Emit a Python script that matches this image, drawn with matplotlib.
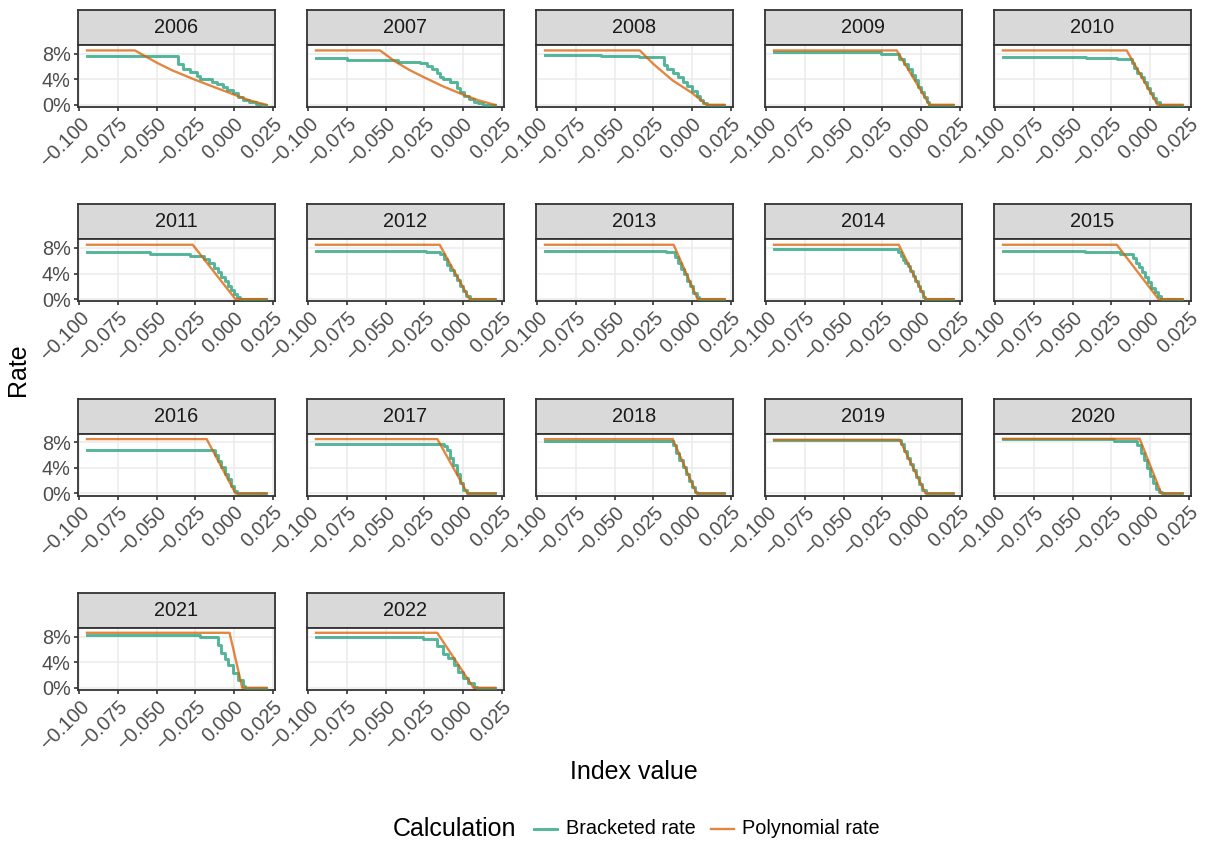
import matplotlib
matplotlib.use("Agg")
import matplotlib.pyplot as plt
from matplotlib.lines import Line2D
from matplotlib.transforms import ScaledTranslation

plt.rcParams["font.family"] = ["Liberation Sans", "DejaVu Sans"]

# ---- data (rates in percent, index in raw units) ----
years = list(range(2006, 2023))

# Polynomial rate: flat top, then falls to zero
poly_x = {
    2006: [-0.095, -0.064, -0.05, -0.04, -0.025, -0.012, 0.0, 0.01, 0.021],
    2007: [-0.095, -0.0536, -0.044, -0.035, -0.026, -0.013, 0.0, 0.01, 0.0205, 0.021],
    2008: [-0.095, -0.0337, -0.025, -0.0124, -0.0002, 0.005, 0.0095, 0.021],
    2009: [-0.095, -0.0156, 0.0056, 0.021],
    2010: [-0.095, -0.015, 0.005, 0.021],
    2011: [-0.095, -0.0266, 0.001, 0.021],
    2012: [-0.095, -0.015, 0.0043, 0.021],
    2013: [-0.095, -0.0118, 0.0037, 0.021],
    2014: [-0.095, -0.0143, 0.0031, 0.021],
    2015: [-0.095, -0.0214, 0.0056, 0.021],
    2016: [-0.095, -0.0176, 0.0011, 0.021],
    2017: [-0.095, -0.0165, 0.003, 0.021],
    2018: [-0.095, -0.0124, 0.003, 0.021],
    2019: [-0.095, -0.0137, 0.003, 0.021],
    2020: [-0.095, -0.0066, 0.0074, 0.021],
    2021: [-0.095, -0.0028, 0.0054, 0.021],
    2022: [-0.095, -0.0166, 0.0069, 0.021],
}
poly_y = {
    2006: [8.5, 8.5, 6.6, 5.4, 3.9, 2.7, 1.6, 0.7, 0.0],
    2007: [8.5, 8.5, 6.8, 5.5, 4.4, 2.9, 1.6, 0.7, 0.0, 0.0],
    2008: [8.5, 8.5, 6.4, 3.8, 1.9, 0.9, 0.0, 0.0],
    2009: [8.5, 8.5, 0, 0],
    2010: [8.5, 8.5, 0, 0],
    2011: [8.5, 8.5, 0, 0],
    2012: [8.5, 8.5, 0, 0],
    2013: [8.5, 8.5, 0, 0],
    2014: [8.5, 8.5, 0, 0],
    2015: [8.5, 8.5, 0, 0],
    2016: [8.5, 8.5, 0, 0],
    2017: [8.5, 8.5, 0, 0],
    2018: [8.5, 8.5, 0, 0],
    2019: [8.4, 8.4, 0, 0],
    2020: [8.55, 8.55, 0, 0],
    2021: [8.6, 8.6, 0, 0],
    2022: [8.6, 8.6, 0, 0],
}

# Bracketed rate: step values, each holding until the next break
brk_x = {
    2006: [-0.095, -0.0362, -0.033, -0.0285, -0.024, -0.022, -0.0143, -0.0111, -0.0073,
           -0.0047, -0.0008, 0.0024, 0.0056, 0.0101, 0.0146, 0.0185, 0.021],
    2007: [-0.095, -0.075, -0.042, -0.028, -0.023, -0.020, -0.017, -0.015, -0.013,
           -0.0085, -0.004, -0.002, 0.001, 0.004, 0.007, 0.010, 0.013, 0.021],
    2008: [-0.095, -0.059, -0.034, -0.018, -0.016, -0.012, -0.009, -0.006, -0.003,
           0.0, 0.003, 0.005, 0.007, 0.0095, 0.021],
    2009: [-0.095, -0.026, -0.014, -0.011, -0.008, -0.006, -0.004, -0.002, 0.0,
           0.002, 0.004, 0.0055, 0.021],
    2010: [-0.095, -0.041, -0.0214, -0.0118, -0.010, -0.008, -0.006, -0.004, -0.002,
           0.0, 0.002, 0.004, 0.0063, 0.021],
    2011: [-0.095, -0.054, -0.0285, -0.019, -0.016, -0.013, -0.010, -0.008, -0.006,
           -0.004, -0.002, 0.0, 0.002, 0.0037, 0.021],
    2012: [-0.095, -0.024, -0.015, -0.012, -0.010, -0.008, -0.006, -0.004, -0.002,
           0.0, 0.002, 0.0045, 0.021],
    2013: [-0.095, -0.024, -0.017, -0.011, -0.009, -0.007, -0.005, -0.003, -0.001,
           0.001, 0.003, 0.0045, 0.021],
    2014: [-0.095, -0.0148, -0.013, -0.0116, -0.010, -0.0084, -0.0068, -0.0051,
           -0.0035, -0.0019, -0.0003, 0.0013, 0.0028, 0.021],
    2015: [-0.095, -0.042, -0.019, -0.011, -0.009, -0.007, -0.005, -0.003, -0.001,
           0.001, 0.003, 0.005, 0.0075, 0.021],
    2016: [-0.095, -0.0124, -0.010, -0.008, -0.006, -0.004, -0.002, 0.0, 0.0018, 0.021],
    2017: [-0.095, -0.0125, -0.010, -0.008, -0.0066, -0.004, -0.002, 0.0, 0.0025,
           0.0045, 0.021],
    2018: [-0.095, -0.012, -0.010, -0.008, -0.006, -0.004, -0.002, 0.0, 0.002,
           0.0035, 0.021],
    2019: [-0.095, -0.013, -0.011, -0.009, -0.007, -0.005, -0.003, -0.001, 0.001,
           0.0032, 0.021],
    2020: [-0.095, -0.0234, -0.008, -0.006, -0.004, -0.002, 0.0, 0.002, 0.004,
           0.006, 0.0078, 0.021],
    2021: [-0.095, -0.022, -0.0105, -0.008, -0.006, -0.004, -0.0008, 0.0024, 0.0057,
           0.0075, 0.021],
    2022: [-0.095, -0.0259, -0.017, -0.013, -0.0094, -0.006, -0.003, 0.0, 0.0036,
           0.007, 0.009, 0.021],
}
brk_y = {
    2006: [7.6, 6.3, 5.6, 5.2, 4.5, 4.0, 3.6, 3.2, 2.8, 2.3, 1.8, 1.2, 0.8, 0.4, 0.1, 0.0, 0.0],
    2007: [7.3, 7.0, 6.7, 6.5, 6.0, 5.6, 5.0, 4.4, 4.0, 3.6, 2.6, 2.0, 1.4, 0.9, 0.5, 0.2, 0.0, 0.0],
    2008: [7.85, 7.7, 7.5, 6.2, 5.6, 5.0, 4.3, 3.6, 3.0, 2.2, 1.4, 0.7, 0.2, 0.0, 0.0],
    2009: [8.2, 7.9, 7.2, 6.4, 5.6, 4.6, 3.8, 2.8, 2.0, 1.2, 0.5, 0.0, 0.0],
    2010: [7.4, 7.3, 7.1, 6.5, 5.8, 5.0, 4.3, 3.5, 2.6, 1.8, 1.0, 0.4, 0.0, 0.0],
    2011: [7.3, 7.0, 6.8, 6.3, 5.6, 4.8, 4.2, 3.5, 2.8, 2.1, 1.4, 0.8, 0.3, 0.0, 0.0],
    2012: [7.6, 7.4, 7.0, 6.2, 5.4, 4.6, 3.8, 3.0, 2.1, 1.3, 0.5, 0.0, 0.0],
    2013: [7.6, 7.5, 7.3, 6.6, 5.7, 4.7, 3.9, 2.9, 2.0, 1.0, 0.3, 0.0, 0.0],
    2014: [7.85, 7.3, 6.7, 6.1, 5.6, 5.1, 4.4, 3.6, 2.9, 2.1, 1.2, 0.4, 0.0, 0.0],
    2015: [7.6, 7.4, 7.1, 6.4, 5.7, 5.0, 4.2, 3.4, 2.6, 1.8, 1.1, 0.5, 0.0, 0.0],
    2016: [6.8, 6.0, 5.0, 4.1, 3.1, 2.2, 1.2, 0.4, 0.0, 0.0],
    2017: [7.8, 7.4, 6.8, 5.6, 4.4, 3.0, 1.6, 0.5, 0.1, 0.0, 0.0],
    2018: [8.2, 7.6, 6.4, 5.3, 4.2, 3.1, 2.0, 1.0, 0.2, 0.0, 0.0],
    2019: [8.3, 7.7, 6.7, 5.6, 4.6, 3.6, 2.5, 1.5, 0.6, 0.0, 0.0],
    2020: [8.5, 8.2, 7.6, 6.4, 5.2, 4.0, 2.8, 1.7, 0.7, 0.2, 0.0, 0.0],
    2021: [8.2, 8.0, 6.7, 5.5, 4.5, 3.5, 2.3, 1.2, 0.2, 0.0, 0.0],
    2022: [7.9, 7.7, 6.6, 5.3, 4.6, 3.5, 2.5, 1.5, 0.7, 0.1, 0.0, 0.0],
}

x_ticks = [-0.1, -0.075, -0.05, -0.025, 0.0, 0.025]
y_ticks = [0, 4, 8]

# ---- styling ----
GREEN = "#1B9E77"
ORANGE = "#D95F02"
DARK = "#333333"
GRID = "#EBEBEB"
TICK_TXT = "#4D4D4D"

W, H = 1208, 841
fig = plt.figure(figsize=(W / 100, H / 100), dpi=100)
label_shift = ScaledTranslation(4 / 100, 0, fig.dpi_scale_trans)


def box(left, top, width, height):
    return [left / W, 1 - (top + height) / H, width / W, height / H]


def minus(v):
    return f"{v:.3f}".replace("-", "\u2212")


for i, year in enumerate(years):
    row, col = divmod(i, 5)
    left = 78 + col * 229
    top = 10 + row * 194.33

    # strip with the year
    sax = fig.add_axes(box(left, top, 197, 35))
    sax.set_facecolor("#D9D9D9")
    sax.set_xticks([])
    sax.set_yticks([])
    for s in sax.spines.values():
        s.set_color(DARK)
        s.set_linewidth(1.3)
    sax.text(0.5, 0.5, str(year), ha="center", va="center",
             fontsize=14.3, color="#1A1A1A", transform=sax.transAxes)

    ax = fig.add_axes(box(left, top + 35, 197, 62))
    ax.step(brk_x[year], brk_y[year], where="post", color=GREEN,
            alpha=0.75, lw=2.1, zorder=3)
    ax.plot(poly_x[year], poly_y[year], color=ORANGE, alpha=0.75, lw=1.7, zorder=4)

    ax.set_xlim(-0.1008, 0.0266)
    ax.set_ylim(-0.35, 9.35)
    ax.set_xticks(x_ticks)
    ax.set_xticklabels([minus(v) for v in x_ticks], rotation=45, ha="right",
                       va="top", rotation_mode="anchor")
    for lab in ax.get_xticklabels():
        lab.set_transform(lab.get_transform() + label_shift)
    ax.set_yticks(y_ticks)
    ax.set_yticklabels([f"{v}%" for v in y_ticks])
    ax.grid(True, color=GRID, lw=1.1, zorder=0)
    ax.set_axisbelow(True)
    ax.tick_params(axis="both", length=3.2, width=1.2, color=DARK,
                   labelsize=14.3, labelcolor=TICK_TXT, pad=2)
    if col != 0:
        ax.tick_params(axis="y", left=False, labelleft=False)
    for s in ax.spines.values():
        s.set_color(DARK)
        s.set_linewidth(1.3)

# axis titles
fig.text(634 / W, 1 - 772 / H, "Index value", ha="center", va="center", fontsize=18)
fig.text(18 / W, 1 - 370 / H, "Rate", ha="center", va="center", rotation=90, fontsize=18)

# legend along the bottom
ly = 1 - 829 / H
fig.text(393 / W, ly, "Calculation", ha="left", va="center", fontsize=18)
fig.add_artist(Line2D([534 / W, 557 / W], [ly, ly], color=GREEN, alpha=0.75, lw=2.1))
fig.text(566 / W, ly, "Bracketed rate", ha="left", va="center", fontsize=14.3)
fig.add_artist(Line2D([711 / W, 734 / W], [ly, ly], color=ORANGE, alpha=0.75, lw=1.7))
fig.text(742 / W, ly, "Polynomial rate", ha="left", va="center", fontsize=14.3)

fig.savefig("out.png", dpi=100, facecolor="white")
